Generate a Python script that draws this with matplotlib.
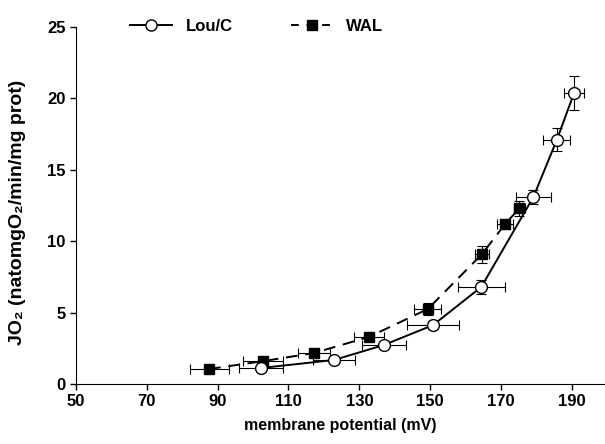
import matplotlib
matplotlib.use('Agg')
import matplotlib.pyplot as plt
from matplotlib.lines import Line2D

# Lou/C (open circles, solid line)
lou_x = [102.2, 122.8, 136.9, 150.8, 164.4, 179.1, 185.7, 190.6]
lou_y = [1.12, 1.68, 2.73, 4.13, 6.8, 13.1, 17.1, 20.4]
lou_xerr = [6.2, 5.9, 6.3, 7.3, 6.7, 5.0, 3.8, 2.8]
lou_yerr = [0.2, 0.2, 0.2, 0.3, 0.5, 0.5, 0.8, 1.2]

# WAL (filled squares, dashed line)
wal_x = [87.6, 102.8, 117.2, 132.7, 149.3, 164.6, 171.1, 175.1]
wal_y = [1.05, 1.6, 2.17, 3.3, 5.25, 9.1, 11.2, 12.3]
wal_xerr = [5.5, 5.6, 4.6, 4.2, 3.8, 2.1, 2.3, 1.6]
wal_yerr = [0.1, 0.2, 0.2, 0.3, 0.45, 0.6, 0.3, 0.5]

xticks = [50, 70, 90, 110, 130, 150, 170, 190]
yticks = [0, 5, 10, 15, 20, 25]

plt.rcParams['font.family'] = ['Liberation Sans', 'DejaVu Sans']
plt.rcParams['font.weight'] = 'bold'

fig = plt.figure(figsize=(6.05, 4.44), dpi=100)
ax = fig.add_axes([0.1253, 0.1351, 0.873, 0.804])

dash = (0, (6, 4))
ax.errorbar(wal_x, wal_y, xerr=wal_xerr, yerr=wal_yerr, fmt='s', ls=dash,
            color='black', mfc='black', mec='black', ms=7.5, lw=1.4,
            ecolor='black', elinewidth=0.8, capsize=3.5, capthick=0.8)
ax.errorbar(lou_x, lou_y, xerr=lou_xerr, yerr=lou_yerr, fmt='o', ls='-',
            color='black', mfc='white', mec='black', ms=8.5, lw=1.4,
            ecolor='black', elinewidth=0.8, capsize=3.5, capthick=0.8)

ax.set_xlim(50, 199)
ax.set_ylim(0, 25)
ax.set_xticks(xticks)
ax.set_yticks(yticks)
ax.tick_params(labelsize=12, length=4, width=1)
ax.spines['top'].set_visible(False)
ax.spines['right'].set_visible(False)

ax.set_xlabel('membrane potential (mV)', fontsize=11.5, fontweight='bold', labelpad=6)
ax.set_ylabel('JO\u2082 (natomgO\u2082/min/mg prot)', fontsize=14, fontweight='bold', labelpad=9)
ax.yaxis.set_label_coords(-0.095, 0.48)

handles = [Line2D([], [], color='black', ls='-', lw=1.4, marker='o', mfc='white', mec='black', ms=8),
           Line2D([], [], color='black', ls=(0, (4, 4)), lw=1.4, marker='s', mfc='black', mec='black', ms=7)]
ax.legend(handles, ['Lou/C', 'WAL'], ncol=2, frameon=False, loc='upper left',
          bbox_to_anchor=(0.075, 1.065), fontsize=12, handlelength=2.5,
          columnspacing=3.5, handletextpad=0.8)

fig.savefig('out.png', dpi=100)
